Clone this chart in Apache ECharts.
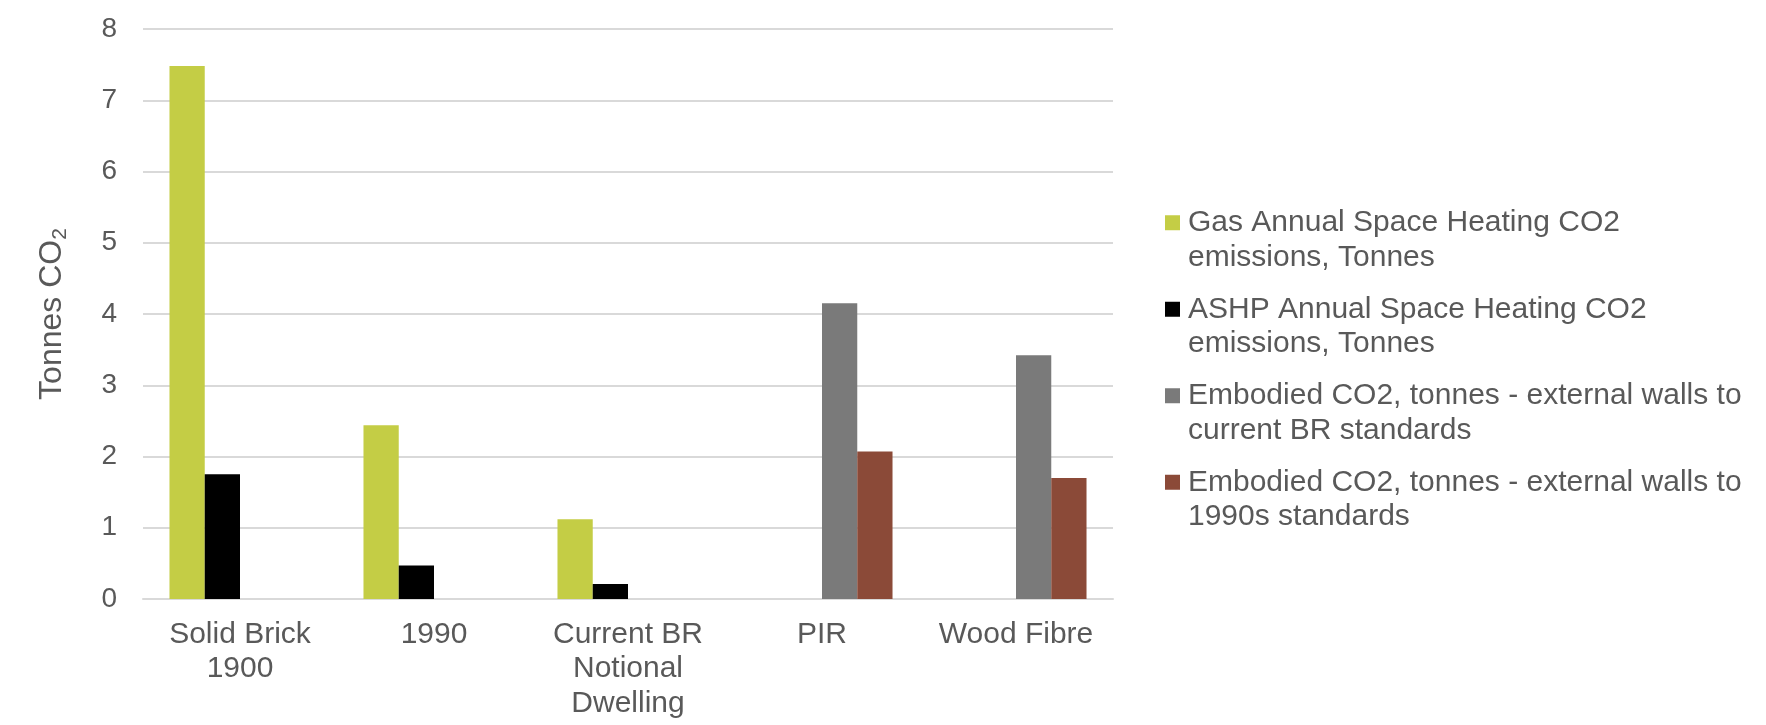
<!DOCTYPE html>
<html>
<head>
<meta charset="utf-8">
<script src="https://cdn.jsdelivr.net/npm/echarts@6/dist/echarts.min.js"></script>
<style>
  html, body { margin: 0; padding: 0; background: #fff; }
  #main { width: 1766px; height: 725px; }
</style>
</head>
<body>
<div id="main"></div>
<script>
// data
var categories = ['Solid Brick\n1900', '1990', 'Current BR\nNotional\nDwelling', 'PIR', 'Wood Fibre'];
var gasCO2 = [7.48, 2.44, 1.12, null, null];
var ashpCO2 = [1.75, 0.47, 0.21, null, null];
var embodiedCurrent = [null, null, null, 4.15, 3.42];
var embodied1990s = [null, null, null, 2.07, 1.70];
var seriesNames = [
  'Gas Annual Space Heating CO2\nemissions, Tonnes',
  'ASHP Annual Space Heating CO2\nemissions, Tonnes',
  'Embodied CO2, tonnes - external walls to\ncurrent BR standards',
  'Embodied CO2, tonnes - external walls to\n1990s standards'
];
var yTicks = { min: 0, max: 8, step: 1 };

var textColor = '#595959';
var font = 'Liberation Sans, Arial, sans-serif';
var colors = ['#c4cd45', '#000000', '#7a7a7a', '#8b4a38'];

var chart = echarts.init(document.getElementById('main'));

function bar(name, data, color) {
  return {
    name: name,
    type: 'bar',
    data: data,
    barGap: '0%',
    barCategoryGap: '27.3%',
    itemStyle: { color: color }
  };
}

chart.setOption({
  animation: false,
  textStyle: { fontFamily: font },
  grid: { left: 143, right: 653, top: 29, bottom: 126, containLabel: false },
  legend: {
    orient: 'vertical',
    left: 1165,
    top: 171,
    padding: 0,
    itemGap: -17,
    itemWidth: 15,
    itemHeight: 15,
    icon: 'rect',
    // empty first line so the square sits beside the first text line
    formatter: function (name) { return '\n' + name; },
    textStyle: {
      fontSize: 30,
      lineHeight: 34.5,
      color: textColor,
      fontFamily: font,
      padding: [0, 0, 0, 3]
    }
  },
  xAxis: {
    type: 'category',
    data: categories,
    axisLine: { lineStyle: { color: '#d9d9d9', width: 2 } },
    axisTick: { show: false },
    axisLabel: {
      fontSize: 30,
      lineHeight: 34.5,
      color: textColor,
      margin: 18,
      interval: 0,
      align: 'center'
    }
  },
  yAxis: {
    type: 'value',
    min: yTicks.min,
    max: yTicks.max,
    interval: yTicks.step,
    name: 'Tonnes CO{sub|2}',
    nameLocation: 'middle',
    nameGap: 72,
    nameRotate: 90,
    nameTextStyle: {
      fontSize: 32,
      color: textColor,
      fontFamily: font,
      rich: {
        sub: { fontSize: 21, color: textColor, padding: [17, 0, 0, 0] }
      }
    },
    axisLine: { show: false },
    axisTick: { show: false },
    axisLabel: { fontSize: 28, color: textColor, margin: 26 },
    splitLine: { lineStyle: { color: '#d9d9d9', width: 2 } }
  },
  series: [
    bar(seriesNames[0], gasCO2, colors[0]),
    bar(seriesNames[1], ashpCO2, colors[1]),
    bar(seriesNames[2], embodiedCurrent, colors[2]),
    bar(seriesNames[3], embodied1990s, colors[3])
  ]
});
</script>
</body>
</html>
